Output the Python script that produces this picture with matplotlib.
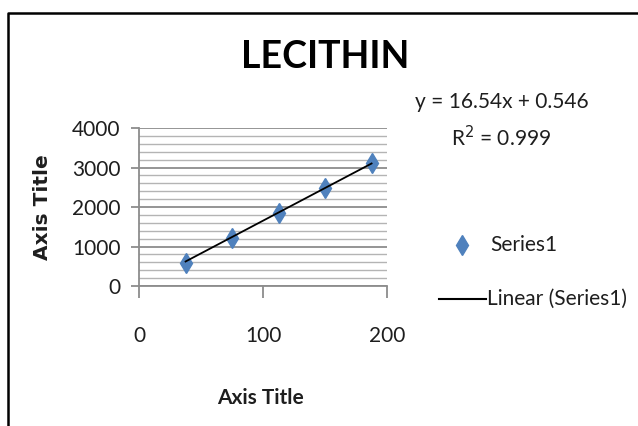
import numpy as np
import matplotlib
matplotlib.use("Agg")
import matplotlib.pyplot as plt
from matplotlib.lines import Line2D
from matplotlib.ticker import MultipleLocator

# ── Data ────────────────────────────────────────────────────────────────────
conc     = [37.5, 75.0, 112.5, 150.0, 187.5]
response = [575, 1225, 1840, 2470, 3105]
slope, intercept, r2 = 16.54, 0.546, 0.999

X_TICKS = [0, 100, 200]
Y_TICKS = [0, 1000, 2000, 3000, 4000]

FONT = ["Lato", "DejaVu Sans"]
BLUE = "#4f81bd"
INK  = "#1e1e1e"
GRID = "#8c8c8c"

fig = plt.figure(figsize=(6.38, 4.26), dpi=100)
fig.patch.set_facecolor("white")
ax = fig.add_axes([0.218, 0.3286, 0.3887, 0.3709])

# grid: majors every 1000, minors every 200
ax.yaxis.set_minor_locator(MultipleLocator(200))
ax.grid(which="major", axis="y", color=GRID, lw=1.3)
ax.grid(which="minor", axis="y", color="#b4b4b4", lw=1.0)
ax.set_axisbelow(True)

# points + trendline
ax.plot(conc, response, ls="none", marker="d", ms=10, color=BLUE,
        mec=BLUE, zorder=3)
xl = np.array([conc[0], conc[-1]])
ax.plot(xl, slope * xl + intercept, color="black", lw=1.3, zorder=4)

ax.set_xlim(0, 200)
ax.set_ylim(0, 4000)
ax.set_xticks(X_TICKS)
ax.set_yticks(Y_TICKS)

for s in ["top", "right"]:
    ax.spines[s].set_visible(False)
for s in ["left", "bottom"]:
    ax.spines[s].set_color(GRID)
    ax.spines[s].set_linewidth(1.3)
ax.tick_params(axis="x", which="major", direction="out", length=8.6,
               color=GRID, width=1.3, pad=20)
ax.tick_params(axis="y", which="major", direction="out", length=5.5,
               color=GRID, width=1.3, pad=8)
ax.tick_params(which="minor", length=0)
for lab in ax.get_xticklabels() + ax.get_yticklabels():
    lab.set_family(FONT)
    lab.set_fontsize(15)
    lab.set_color(INK)

# titles
fig.text(0.509, 0.866, "LECITHIN", ha="center", va="center",
         family=FONT, fontsize=27, fontweight="bold", color="black")
fig.text(0.066, 0.514, "Axis Title", rotation=90, ha="center", va="center",
         family="DejaVu Sans", fontsize=14.5, fontweight="bold", color=INK)
fig.text(0.409, 0.066, "Axis Title", ha="center", va="center",
         family=FONT, fontsize=15, fontweight="bold", color=INK)

# trendline equation
fig.text(0.787, 0.760, f"y = {slope:.2f}x + {intercept:.3f}", ha="center",
         va="center", family=FONT, fontsize=15, color=INK)
fig.text(0.785, 0.676, f"R$^2$ = {r2:.3f}", ha="center", va="center",
         family=FONT, fontsize=15, color=INK)

# legend (manual, Excel-like)
fig.add_artist(Line2D([0.724], [0.425], marker="d", ms=10, color=BLUE,
                      transform=fig.transFigure))
fig.text(0.768, 0.425, "Series1", ha="left", va="center",
         family=FONT, fontsize=15, color=INK)
fig.add_artist(Line2D([0.688, 0.762], [0.298, 0.298], color="black", lw=1.5,
                      transform=fig.transFigure))
fig.text(0.764, 0.298, "Linear (Series1)", ha="left", va="center",
         family=FONT, fontsize=15, color=INK)

# chart-area border (left and top visible in the crop)
fig.add_artist(Line2D([0.0125, 0.0125, 1.0], [0.0, 0.970, 0.970],
                      color="black", lw=1.8, transform=fig.transFigure))

fig.savefig("out.png", dpi=100, facecolor="white")
